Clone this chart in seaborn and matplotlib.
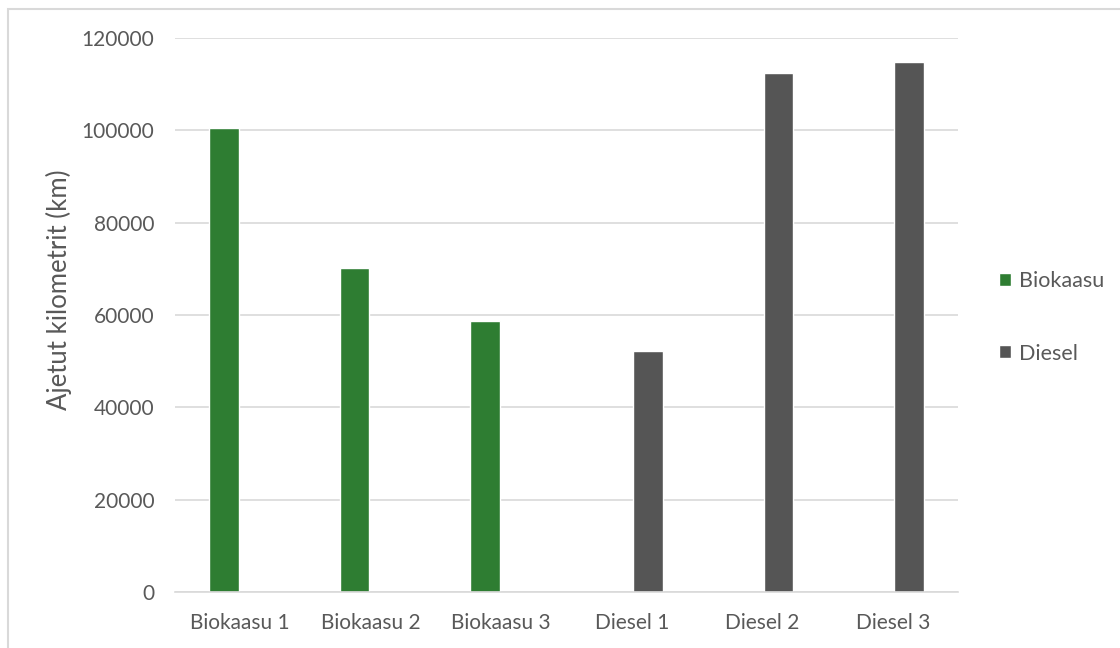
import matplotlib
matplotlib.use("Agg")
import matplotlib.pyplot as plt
import seaborn as sns
import pandas as pd
from matplotlib.patches import Rectangle

# Driven kilometres per vehicle
categories = ["Biokaasu 1", "Biokaasu 2", "Biokaasu 3", "Diesel 1", "Diesel 2", "Diesel 3"]
fuel = ["Biokaasu", "Biokaasu", "Biokaasu", "Diesel", "Diesel", "Diesel"]
kilometres = [100400, 70200, 58600, 52200, 112400, 114700]
y_ticks = [0, 20000, 40000, 60000, 80000, 100000, 120000]

df = pd.DataFrame({"vehicle": categories, "fuel": fuel, "km": kilometres})

sns.set_theme(style="white")
plt.rcParams["font.family"] = ["Lato", "DejaVu Sans"]

text_col = "#595959"
grid_col = "#d9d9d9"
palette = {"Biokaasu": "#2e7d32", "Diesel": "#555555"}

fig = plt.figure(figsize=(11.2, 6.48), dpi=100)
ax = fig.add_axes([175 / 1120, 1 - 592 / 648, (958 - 175) / 1120, (592 - 38) / 648])

sns.barplot(data=df, x="vehicle", y="km", hue="fuel", order=categories,
            palette=palette, width=0.5, gap=0.1, dodge=True,
            saturation=1, ax=ax, legend=True)

ax.set_ylim(0, 120000)
ax.set_yticks(y_ticks)
ax.set_yticklabels([str(t) for t in y_ticks])
ax.set_xlim(-0.5, len(categories) - 0.5)
ax.yaxis.grid(True, color=grid_col, linewidth=1.2)
ax.set_axisbelow(True)
for side in ["top", "right", "left"]:
    ax.spines[side].set_visible(False)
ax.spines["bottom"].set_color(grid_col)
ax.spines["bottom"].set_linewidth(1.2)
ax.tick_params(axis="both", length=0, labelsize=15, colors=text_col)
ax.tick_params(axis="y", pad=15)
ax.tick_params(axis="x", pad=15)
ax.set_xlabel("")
ax.set_ylabel("Ajetut kilometrit (km)", fontsize=18.5, color=text_col)
ax.yaxis.set_label_coords(-0.131, 0.545)

leg = ax.legend(loc="center left", bbox_to_anchor=(1.028, 0.496), frameon=False,
                fontsize=15.5, handlelength=0.55, handleheight=0.55,
                handletextpad=0.35, labelspacing=2.45)
for t in leg.get_texts():
    t.set_color(text_col)

# chart area border
fig.patches.append(Rectangle((8 / 1120, -0.05), 1.2, 1 - 9 / 648 + 0.05,
                             transform=fig.transFigure, fill=False,
                             edgecolor=grid_col, linewidth=1.5))

fig.savefig("out.png", dpi=100)
